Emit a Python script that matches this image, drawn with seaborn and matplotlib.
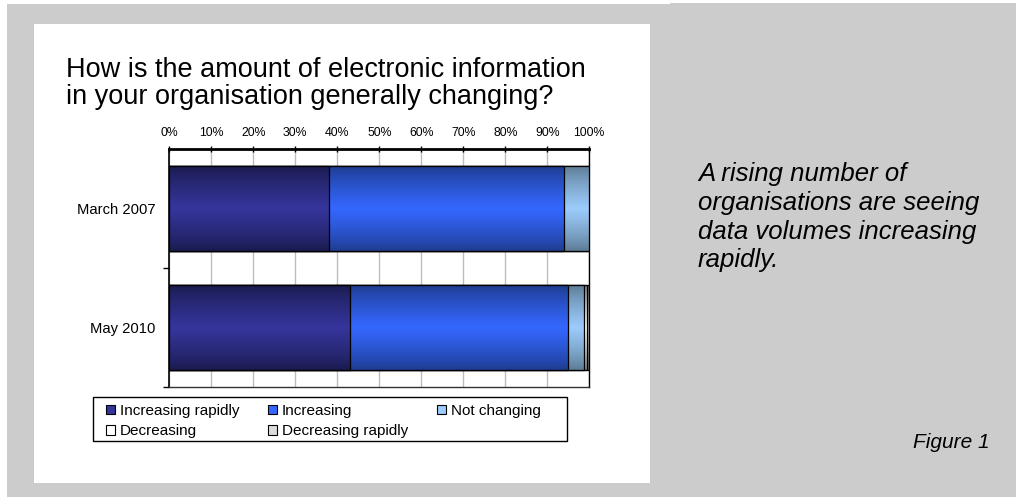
import numpy as np
import pandas as pd
import matplotlib
matplotlib.use("Agg")
import matplotlib.pyplot as plt
from matplotlib.patches import Rectangle, Patch
from matplotlib.colors import to_rgb
from matplotlib.ticker import FixedLocator, FuncFormatter
import seaborn as sns

# ---- data (percent of respondents) ----
periods = ["March 2007", "May 2010"]
categories = ["Increasing rapidly", "Increasing", "Not changing",
              "Decreasing", "Decreasing rapidly"]
increasing_rapidly = [38.0, 43.0]
increasing = [56.0, 52.0]
not_changing = [6.0, 3.8]
decreasing = [0.0, 0.6]
decreasing_rapidly = [0.0, 0.6]
x_ticks = [0, 10, 20, 30, 40, 50, 60, 70, 80, 90, 100]

title = "How is the amount of electronic information\nin your organisation generally changing?"
note = "A rising number of\norganisations are seeing\ndata volumes increasing\nrapidly."
caption = "Figure 1"

# shading: (edge colour, centre colour) for each category
shades = {
    "Increasing rapidly": ("#1a1a4c", "#35359c"),
    "Increasing": ("#1d3a8a", "#3467ff"),
    "Not changing": ("#5a7890", "#9cccfc"),
    "Decreasing": ("#7a7a7a", "#ffffff"),
    "Decreasing rapidly": ("#6e6e6e", "#dcdcdc"),
}

df = pd.DataFrame({"period": periods})
series = [increasing_rapidly, increasing, not_changing, decreasing, decreasing_rapidly]
running = np.zeros(len(periods))
for cat, vals in zip(categories, series):
    running = running + np.asarray(vals)
    df[cat] = running

sns.set_style("white")
plt.rcParams["font.family"] = ["Liberation Sans", "DejaVu Sans"]
plt.rcParams["text.color"] = "black"
plt.rcParams["xtick.color"] = "black"
plt.rcParams["ytick.color"] = "black"
plt.rcParams["axes.labelcolor"] = "black"

W, H = 1016, 497
fx = lambda px: px / W
fy = lambda py: 1 - py / H

fig = plt.figure(figsize=(W / 100, H / 100), dpi=100, facecolor="#cccccc")

# page margins and the white chart panel
fig.patches.append(Rectangle((0, fy(4)), fx(670), 4 / H, transform=fig.transFigure,
                             facecolor="white", edgecolor="none", zorder=-2))
fig.patches.append(Rectangle((fx(670), fy(3)), 1 - fx(670), 3 / H, transform=fig.transFigure,
                             facecolor="white", edgecolor="none", zorder=-2))
fig.patches.append(Rectangle((0, 0), fx(7), 1, transform=fig.transFigure,
                             facecolor="white", edgecolor="none", zorder=-2))
fig.patches.append(Rectangle((fx(34), fy(483)), (650 - 34) / W, (483 - 24) / H,
                             transform=fig.transFigure, facecolor="white",
                             edgecolor="none", zorder=-1))

ax = fig.add_axes([fx(169.3), fy(387), 420 / W, 238 / H])
ax.set_facecolor("white")
ax.set_axisbelow(True)


def gradient(edge, centre, n=96):
    t = np.linspace(0, 1, n)
    w = (1 - np.abs(2 * t - 1)) ** 0.75
    e = np.array(to_rgb(edge))
    c = np.array(to_rgb(centre))
    return (e[None, :] * (1 - w[:, None]) + c[None, :] * w[:, None])[:, None, :]


# stacked bars: draw cumulative totals from the outermost segment inwards
z = 2.0
for cat in reversed(categories):
    before = len(ax.patches)
    sns.barplot(data=df, x=cat, y="period", order=periods, orient="h",
                color=shades[cat][1], saturation=1, width=0.714,
                edgecolor="black", linewidth=0.9, ax=ax)
    grad = gradient(*shades[cat])
    for p in ax.patches[before:]:
        x0, y0 = p.get_x(), p.get_y()
        w, h = p.get_width(), p.get_height()
        im = ax.imshow(grad, extent=[x0, x0 + w, y0 + h, y0], aspect="auto",
                       interpolation="bilinear", zorder=z)
        im.set_clip_path(p)
        p.set_facecolor("none")
        p.set_zorder(z + 0.1)
    z += 1

ax.set_xlim(0, 100)
ax.set_ylim(1.5, -0.5)
ax.set_aspect("auto")
ax.set_xlabel("")
ax.set_ylabel("")

# x axis on top
ax.xaxis.set_ticks_position("top")
ax.xaxis.set_label_position("top")
ax.set_xticks(x_ticks)
ax.xaxis.set_major_formatter(FuncFormatter(lambda v, _: f"{v:.0f}%"))
ax.tick_params(axis="x", which="major", direction="inout", length=5, width=1,
               color="black", labelcolor="black", labelsize=8.8, pad=5,
               top=True, bottom=False, labeltop=True, labelbottom=False)
ax.grid(axis="x", color="#bdbdbd", linewidth=1)
ax.grid(axis="y", visible=False)

ax.tick_params(axis="y", which="major", length=0, labelsize=10.6, pad=10,
               labelcolor="black")
ax.yaxis.set_minor_locator(FixedLocator([0.5, 1.5]))
ax.tick_params(axis="y", which="minor", direction="out", length=4, width=1,
               color="black", left=True)

for side, lw, col in [("top", 2.0, "black"), ("left", 1.2, "black"),
                      ("right", 1.0, "black"), ("bottom", 1.0, "#333333")]:
    ax.spines[side].set_visible(True)
    ax.spines[side].set_linewidth(lw)
    ax.spines[side].set_color(col)
ax.spines["top"].set_zorder(10)

# legend box
fig.patches.append(Rectangle((fx(93), fy(441)), 474 / W, 44 / H, transform=fig.transFigure,
                             facecolor="white", edgecolor="black", linewidth=1.0,
                             zorder=1))

# legend entries, row-major order in three columns
handles = [Patch(facecolor=shades[c][1], edgecolor="black", linewidth=0.8) for c in categories]
order = [0, 3, 1, 4, 2]
leg = fig.legend([handles[i] for i in order], [categories[i] for i in order],
                 loc="upper left", bbox_to_anchor=(fx(106), fy(404)),
                 bbox_transform=fig.transFigure, ncol=3,
                 frameon=False, fontsize=11,
                 handlelength=0.6, handleheight=0.6, handletextpad=0.3,
                 labelspacing=0.4, columnspacing=1.9, borderpad=0.0,
                 borderaxespad=0)
leg.set_zorder(2)

fig.text(fx(66), fy(57), title, fontsize=19.5, ha="left", va="top", linespacing=1.05)
fig.text(fx(698), fy(162), note, fontsize=18.5, style="italic", ha="left",
         va="top", linespacing=1.25)
fig.text(fx(990), fy(442), caption, fontsize=15, style="italic", ha="right", va="center")

fig.savefig("out.png", dpi=100, facecolor=fig.get_facecolor())
